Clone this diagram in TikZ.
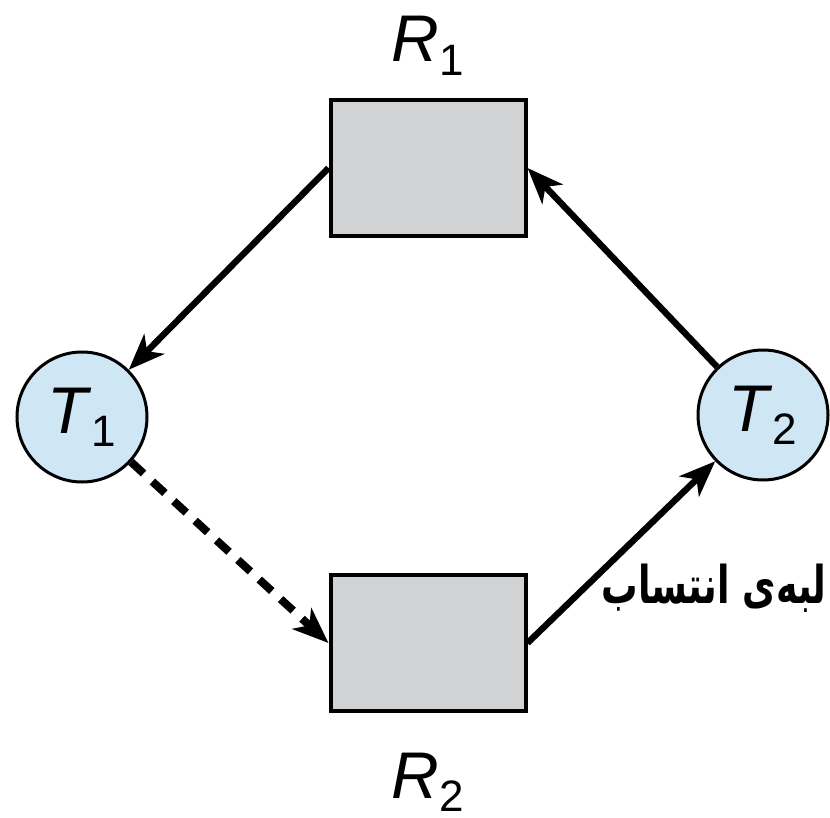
\documentclass[tikz,border=0pt]{standalone}
\usepackage{fontspec}
\setmainfont{Liberation Sans}
\newfontfamily\persianfont[Script=Arabic]{DejaVu Sans}
\TeXXeTstate=1
\usepackage{tikz}
\usepackage{xcolor}
\usetikzlibrary{arrows.meta, positioning}
\definecolor{Task_Blue}{HTML}{CFE6F5}
\definecolor{Res_Gray}{HTML}{D1D2D4}
\newcommand{\sublbl}[2]{\textit{#1}\raisebox{-0.2em}{\fontsize{22}{22}\selectfont #2}}

\begin{document}
\begin{tikzpicture}[x=0.5pt, y=-0.5pt,
    every node/.style={font=\fontsize{33}{33}\selectfont},
    res/.style={draw, line width=2pt, fill=Res_Gray, minimum width=97.5pt, minimum height=68pt},
    task/.style={circle, draw, line width=1.5pt, fill=Task_Blue, minimum size=65pt, inner sep=0pt},
    arr/.style={line width=3.2pt, -{Stealth[length=18pt, width=14pt, inset=5pt]}},
    req/.style={line width=4pt, dash pattern=on 8.5pt off 6pt}]
    \useasboundingbox (0,0) rectangle (830,818);

    % Resources
    \node[res] (R1) at (428,168) {};
    \node[res] (R2) at (428,643) {};
    \node[anchor=base] (R1lbl) at (428,62) {\sublbl{R}{1}};
    \node[anchor=base] (R2lbl) at (428,798) {\sublbl{R}{2}};

    % Threads
    \node[task] (T1) at (82,417) {\sublbl{T}{1}};
    \node[task] (T2) at (763,415) {\sublbl{T}{2}};

    % Edges
    \draw[arr] (R1.west) -- (T1);
    \draw[arr] (T2) -- (R1.east);
    \draw[arr] (R2.east) -- (T2);
    \draw[arr, req] (T1) -- (R2.west);

    % Assignment edge label
    \node[anchor=base east, inner sep=0pt, font=\fontsize{26}{26}\selectfont\persianfont\bfseries] (asgn) at (827,603) {\scalebox{0.7}[1]{\beginR لبه‌ی انتساب\endR}};
\end{tikzpicture}
\end{document}
